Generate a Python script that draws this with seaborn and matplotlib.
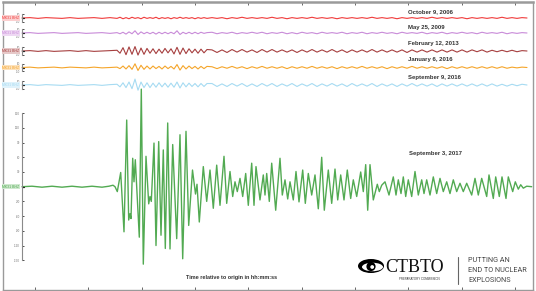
import numpy as np
import pandas as pd
import matplotlib
matplotlib.use('Agg')
import matplotlib.pyplot as plt
import seaborn as sns
from matplotlib.patches import Ellipse, Circle
from matplotlib.lines import Line2D

sns.set_theme(style='white')
plt.rcParams['font.family'] = ['Liberation Sans', 'DejaVu Sans']

# ---------------- data ----------------
event_dates = ["October 9, 2006", "May 25, 2009", "February 12, 2013",
               "January 6, 2016", "September 9, 2016", "September 3, 2017"]
station = "MK31 BHZ"
trace_colors = ['#f03a3a', '#c88ad8', '#a63f3f', '#f5a52a', '#a6dbf2', '#52aa52']
small_ticks = [-10, 10]
big_ticks = [-150, -120, -90, -60, -30, 30, 60, 90, 120, 150]
frame_ticks = [-82, -29, 25, 78, 131, 185, 238, 291, 345, 398]

# time (s, relative to onset) shared by the five older events
t_small = [-95, -87, -79, -71, -63, -55, -47, -39, -31, -23, -15, -7,
           0, 3, 6, 9, 12, 15, 18, 21, 24, 27, 30, 33, 36, 39, 42, 45, 48, 51,
           54, 57, 60, 63, 66, 69, 72, 75, 78, 81, 84, 87, 90,
           95, 100, 105, 110, 115, 120, 125, 130, 135, 140, 145, 150, 155, 160,
           165, 170, 175, 180, 185, 190, 195, 200, 205, 210, 215, 220, 225, 230,
           235, 240, 245, 250, 255, 260, 265, 270, 275, 280, 285, 290, 295, 300,
           305, 310, 315, 320, 325, 330, 335, 340, 345, 350, 355, 360, 365, 370,
           375, 380, 385, 390, 395, 400, 405, 410]

amp_2006 = [0, 1, -1, 1, 0, -1, 1, -1, 0, 1, -1, 1,
            -1, 2, -2, 1, -2, 2, -1, 1, -2, 2, -1, 1, -1, 2, -2, 1,
            -1, 1, -2, 1, -1, 2, -1, 1, -1, 1, -2, 1, -1, 1, -1,
            1, -1, 1, -2, 1, -1, 2, -1, 1, -1, 1, -1, 2, -1, 1, -2,
            1, -1, 1, -1, 2, -1, 1, -1, 1, -2, 1, -1, 1, -1, 1, -1,
            2, -1, 1, -1, 1, -2, 1, -1, 1, -1, 1, -1, 2, -1, 1, -1,
            1, -1, 1, -2, 1, -1, 1, -1, 1, -1, 2, -1, 1, -1, 1, 0]
amp_2009 = [0, 1, -1, 0, 1, -1, 0, 1, -1, 0, 1, -1,
            1, -2, 2, -3, 3, -2, 6, -4, 3, -2, 2, -2, 2, -3, 2, -2,
            2, -2, 2, -2, 6, -4, 2, -2, 2, -2, 2, -2, 2, -1, 1,
            2, -2, 1, -1, 2, -2, 1, -1, 2, -1, 2, -2, 1, -1, 2, -2,
            1, -2, 2, -1, 1, -2, 2, -1, 1, -1, 2, -2, 1, -1, 2, -2,
            1, -1, 2, -1, 1, -2, 2, -1, 1, -1, 2, -2, 1, -1, 2, -2,
            1, -1, 2, -1, 1, -2, 2, -1, 1, -1, 2, -2, 1, -1, 1, 0]
amp_2013 = [0, 1, -1, 1, -1, 0, 1, -1, 1, -1, 0, 1,
            2, -6, 9, -10, 11, -9, 12, -11, 8, -9, 7, -6, 6, -7, 5, -6,
            7, -5, 6, -8, 10, -9, 8, -7, 6, -5, 5, -6, 5, -5, 4,
            3, -4, 3, -4, 4, -3, 4, -3, 3, -4, 4, -3, 4, -3, 3, -3,
            3, -4, 3, -3, 4, -3, 3, -3, 4, -3, 3, -4, 3, -3, 3, -3,
            4, -3, 3, -3, 3, -3, 3, -4, 3, -3, 3, -3, 3, -3, 3, -3,
            3, -3, 3, -3, 3, -2, 3, -3, 2, -2, 2, -2, 2, -2, 1, 0]
amp_2016a = [0, 1, -1, 0, 1, -1, 1, 0, -1, 1, -1, 0,
             1, -3, 4, -4, 5, -5, 10, -8, 6, -5, 4, -4, 4, -3, 3, -4,
             4, -3, 3, -4, 8, -7, 5, -4, 4, -3, 3, -4, 3, -3, 3,
             2, -3, 2, -2, 3, -2, 2, -3, 2, -2, 3, -2, 2, -2, 2, -3,
             2, -2, 2, -2, 3, -2, 2, -2, 2, -3, 2, -2, 2, -2, 3, -2,
             2, -2, 2, -3, 2, -2, 2, -2, 3, -2, 2, -2, 2, -2, 2, -3,
             2, -2, 2, -2, 2, -2, 2, -2, 2, -2, 2, -2, 1, -1, 1, 0]
amp_2016b = [0, 1, -1, 1, 0, -1, 1, -1, 0, 1, -1, 1,
             2, -5, 6, -7, 8, -10, 16, -14, 8, -7, 6, -7, 5, -6, 6, -5,
             5, -6, 5, -6, 8, -8, 6, -5, 5, -4, 4, -5, 4, -4, 4,
             4, -4, 3, -4, 4, -3, 4, -4, 3, -4, 4, -3, 4, -4, 3, -3,
             4, -4, 3, -3, 4, -4, 3, -3, 4, -3, 3, -4, 4, -3, 3, -3,
             4, -4, 3, -3, 3, -4, 3, -3, 4, -3, 3, -3, 3, -4, 3, -3,
             3, -3, 3, -3, 3, -3, 3, -3, 3, -3, 2, -3, 2, -2, 2, 0]

# 2017 event: (time s, amplitude)
wave_2017 = [(-95, 0), (-85, 1), (-75, -1), (-65, 1), (-55, -1), (-45, 1), (-35, -1),
             (-25, 1), (-15, -1), (-8, 1), (-4, 3), (-2, 0),
             (0.3, -10), (3.7, 29), (7.0, -92), (9.7, 136), (11.7, -68), (13, -55),
             (14, -65), (15.7, 58), (17, 10), (18.3, 55), (22.3, -103), (24.3, 199),
             (26.3, -158), (29, 62), (31.7, -35), (33, -20), (34.3, -30), (37, 89),
             (39, -120), (41.7, 92), (44, -99), (46.3, 75), (48.3, -126), (50.7, 130),
             (53, -127), (55.7, 86), (59.7, -106), (63, 106), (65.7, -147), (69, 113),
             (71.7, -79), (75.5, 34), (78.5, -15), (80, 5), (82.3, -72), (86.3, 41),
             (89.7, -30), (93, 34), (96.3, -44), (99.7, 44), (103, -38), (107, 62),
             (109.7, -34), (113, 31), (115.7, -20), (118, 10), (120.3, -10), (123, 17),
             (125.7, -20), (128.7, 27), (131.3, -38), (134.7, 48), (137, -38), (139, 41),
             (143, -27), (146.3, 24), (148, -17), (149.7, 27), (152.3, -30), (154.7, 48),
             (158.7, -48), (163, 58), (165.3, -17), (168, 14), (170.7, -25), (173, 10),
             (176.3, -27), (179, 31), (182, -31), (185.7, 34), (188.3, -34), (191.3, 27),
             (194.7, -17), (198, 24), (201.3, -45), (204.7, 60), (207.3, -48), (211.3, 34),
             (214.7, -34), (218, 36), (220.7, -27), (223.7, 24), (227, -27), (230.3, 34),
             (233.7, -24), (236.3, 14), (239.7, -20), (243.7, 30), (246.3, -10), (248.7, 45),
             (250.7, -48), (253, 45), (256.3, -27), (260.3, 5), (262.3, -10), (264.7, 3),
             (268, 10), (272, -17), (276.3, 20), (279, -17), (281.3, 14), (284, -14),
             (286.3, 20), (288.7, -20), (291.3, 14), (294.7, -20), (298, 31), (301.3, -17),
             (304.7, 14), (307, -14), (309.7, 14), (313, -17), (316.3, 20), (319.7, -14),
             (323, 17), (326.3, -10), (329.7, 10), (333, -14), (336.3, 14), (339.7, -10),
             (343, 7), (346.3, -10), (349.7, 7), (354.7, -17), (358, 17), (361.3, -17),
             (364.7, 17), (369.7, -20), (372, 24), (376.3, -24), (378.7, 20), (382.3, -20),
             (385, 20), (389, -24), (391.3, 20), (395.7, -10), (398.3, 10), (401.3, -5),
             (403.7, 4), (406.3, -3), (409.7, 1), (414.7, 0)]

small_amps = [amp_2006, amp_2009, amp_2013, amp_2016a, amp_2016b]
for a in small_amps:
    assert len(a) == len(t_small), len(a)

# ---------------- layout ----------------
W, H = 536, 291
fig = plt.figure(figsize=(W / 100, H / 100), dpi=100)
fig.patch.set_facecolor('white')


def px_axes(x0, y0, x1, y1, z=1):
    ax = fig.add_axes([x0 / W, 1 - y1 / H, (x1 - x0) / W, (y1 - y0) / H])
    ax.set_zorder(z)
    return ax


T0, T1 = -95, 416
X_TRACE0, X_TRACE1 = 22, 533

# outer frame
axf = px_axes(2.5, 1.5, 533, 289.5, z=0)
axf.set_xlim(T0 - (X_TRACE0 - 2.5), T1)
axf.set_ylim(0, 1)
axf.set_facecolor('white')
for s in axf.spines.values():
    s.set_color('#9a9a9a')
    s.set_linewidth(1.0)
axf.spines['top'].set_linewidth(1.8)
axf.set_xticks(frame_ticks)
axf.set_yticks([])
axf.tick_params(axis='x', top=True, bottom=True, direction='in', length=2.2,
                width=0.7, color='#666666', labelbottom=False, labeltop=False)

baselines = [18, 33, 51, 67.5, 85]
date_y = [11.5, 27, 43, 60, 77.5]
lighter = ['#fbd0d0', '#eed8f3', '#e6c8c8', '#fde2bd', '#dff2fb', '#cfe9cf']


def style_trace_axis(ax, ticks, bounds, fs):
    ax.set_facecolor('none')
    for k in ['top', 'right', 'bottom']:
        ax.spines[k].set_visible(False)
    ax.spines['left'].set_color('#8a8a8a')
    ax.spines['left'].set_linewidth(0.8)
    ax.spines['left'].set_bounds(*bounds)
    ax.set_xticks([])
    ax.set_yticks(ticks)
    ax.set_yticklabels([str(v) for v in ticks])
    ax.tick_params(axis='y', direction='in', length=1.6, width=0.6, color='#333333',
                   labelsize=fs, labelcolor='#777777', pad=1.5, left=True)
    ax.set_xlabel('')
    ax.set_ylabel('')


for i, (amp, b) in enumerate(zip(small_amps, baselines)):
    ax = px_axes(X_TRACE0, b - 7, X_TRACE1, b + 7, z=2)
    df = pd.DataFrame({'t': t_small, 'amp': amp})
    sns.lineplot(data=df, x='t', y='amp', ax=ax, color=trace_colors[i],
                 linewidth=0.8, estimator=None, sort=False, legend=False)
    for ln in ax.get_lines():
        ln.set_clip_on(False)
    ax.set_xlim(T0, T1)
    ax.set_ylim(-18.9, 18.9)
    style_trace_axis(ax, small_ticks, (-10, 10), 2.2)
    ax.plot([T0, T0 + 1.8], [0, 0], color='#222222', lw=0.9, clip_on=False)
    fig.text(11 / W, 1 - b / H, station, fontsize=2.5, color=trace_colors[i],
             ha='center', va='center',
             bbox=dict(boxstyle='square,pad=0.15', fc=lighter[i], ec='none'))
    fig.text(408 / W, 1 - date_y[i] / H, event_dates[i], fontsize=4.3,
             fontweight='bold', color='#333333', ha='left', va='center')

# 2017 event
axg = px_axes(X_TRACE0, 84, X_TRACE1, 272, z=3)
dfg = pd.DataFrame(wave_2017, columns=['t', 'amp'])
sns.lineplot(data=dfg, x='t', y='amp', ax=axg, color=trace_colors[5],
             linewidth=1.0, estimator=None, sort=False, legend=False)
for ln in axg.get_lines():
    ln.set_clip_on(False)
axg.set_xlim(T0, T1)
axg.set_ylim(-174, 209.5)
style_trace_axis(axg, big_ticks, (-150, 150), 2.2)
axg.plot([T0, T0 + 1.8], [0, 0], color='#222222', lw=0.9, clip_on=False)
fig.text(11 / W, 1 - 186.7 / H, station, fontsize=2.5, color=trace_colors[5],
         ha='center', va='center',
         bbox=dict(boxstyle='square,pad=0.15', fc=lighter[5], ec='none'))
fig.text(409 / W, 1 - 154 / H, event_dates[5], fontsize=4.3, fontweight='bold',
         color='#333333', ha='left', va='center')

# x-axis caption
fig.text(232 / W, 1 - 278 / H, "Time relative to origin in hh:mm:ss", fontsize=4.0,
         fontweight='bold', color='#333333', ha='center', va='center')

# CTBTO logo
axl = px_axes(357, 256, 385, 276, z=4)
axl.set_xlim(0, 28)
axl.set_ylim(0, 20)
axl.axis('off')
axl.add_patch(Ellipse((14, 10), 26, 14, fc='black', ec='none'))
axl.add_patch(Ellipse((15.5, 9), 21, 8.5, fc='white', ec='none'))
axl.add_patch(Circle((14, 9.5), 4.6, fc='black', ec='none'))
axl.add_patch(Circle((15.2, 9.0), 1.9, fc='white', ec='none'))

fig.text(385 / W, 1 - 267 / H, "CTBTO", fontsize=13, family='Liberation Serif',
         color='#111111', ha='left', va='center')
fig.text(419 / W, 1 - 278.5 / H, "PREPARATORY COMMISSION", fontsize=2.1,
         color='#333333', ha='center', va='center')
fig.add_artist(Line2D([458 / W, 458 / W], [1 - 257 / H, 1 - 284 / H],
                      color='#666666', lw=0.8))
for yy, txt in zip([261, 270.5, 280], ["PUTTING AN", "END TO NUCLEAR", "EXPLOSIONS"]):
    fig.text(468 / W, 1 - yy / H, txt, fontsize=5.2, family='Roboto',
             color='#444444', ha='left', va='center')

fig.savefig('out.png', dpi=100)
